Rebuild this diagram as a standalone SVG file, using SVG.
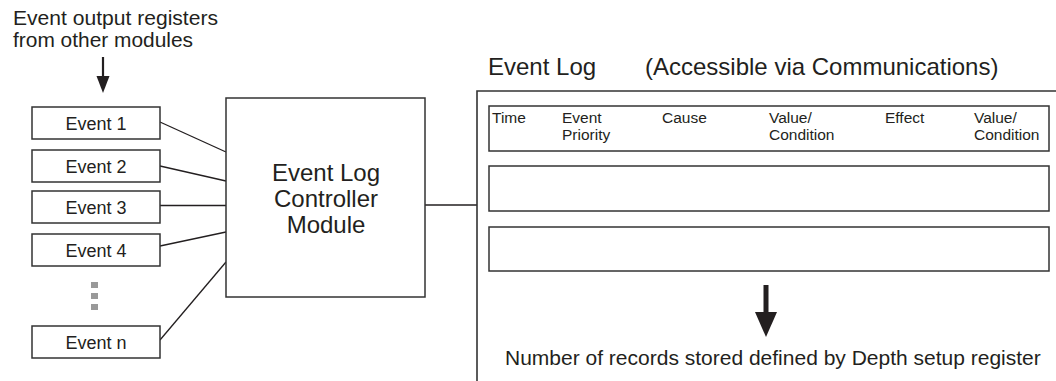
<svg xmlns="http://www.w3.org/2000/svg" width="1056" height="381" viewBox="0 0 1056 381">
<style>
  text { font-family: "Liberation Sans", Arial, sans-serif; fill: #231f20; }
  .box { fill: #ffffff; stroke: #333333; stroke-width: 1.5; }
  .wire { fill: none; stroke: #231f20; stroke-width: 1.3; }
  .lbl { font-size: 18px; text-anchor: middle; }
  .big { font-size: 24px; }
  .hdr { font-size: 15.5px; }
  .note { font-size: 21px; }
  .src { font-size: 20.5px; }
  .dot { fill: #999999; }
</style>
<rect width="1056" height="381" fill="#ffffff"/>

<g id="source-note">
  <text class="src" x="13" y="25" textLength="205" lengthAdjust="spacingAndGlyphs">Event output registers</text>
  <text class="src" x="13" y="47" textLength="180" lengthAdjust="spacingAndGlyphs">from other modules</text>
  <line x1="103" y1="57" x2="103" y2="77" stroke="#231f20" stroke-width="2.2"/>
  <polygon points="96.5,76 109.5,76 103,93" fill="#231f20"/>
</g>

<g id="connectors">
  <line class="wire" x1="160" y1="122" x2="226" y2="152"/>
  <line class="wire" x1="160" y1="166" x2="226" y2="181"/>
  <line class="wire" x1="160" y1="205.5" x2="226" y2="205.5"/>
  <line class="wire" x1="160" y1="246" x2="226" y2="232"/>
  <line class="wire" x1="160" y1="340" x2="226" y2="262"/>
  <line class="wire" x1="425" y1="205" x2="477" y2="205"/>
</g>

<g id="event1"><rect class="box" x="32" y="107" width="128" height="32"/><text class="lbl" x="96" y="130">Event 1</text></g>
<g id="event2"><rect class="box" x="32" y="150" width="128" height="32"/><text class="lbl" x="96" y="173">Event 2</text></g>
<g id="event3"><rect class="box" x="32" y="191" width="128" height="32"/><text class="lbl" x="96" y="214">Event 3</text></g>
<g id="event4"><rect class="box" x="32" y="234" width="128" height="32"/><text class="lbl" x="96" y="257">Event 4</text></g>
<g id="ellipsis">
  <rect class="dot" x="91" y="282" width="7" height="6"/>
  <rect class="dot" x="91" y="293" width="7" height="6"/>
  <rect class="dot" x="91" y="304" width="7" height="6"/>
</g>
<g id="eventn"><rect class="box" x="32" y="326" width="128" height="32"/><text class="lbl" x="96" y="349">Event n</text></g>

<g id="controller">
  <rect class="box" x="226" y="98" width="199" height="199"/>
  <text class="big" x="326" y="181" text-anchor="middle">Event Log</text>
  <text class="big" x="326" y="207" text-anchor="middle">Controller</text>
  <text class="big" x="326" y="233" text-anchor="middle">Module</text>
</g>

<g id="event-log">
  <text class="big" x="488" y="75">Event Log</text>
  <text class="big" x="645" y="75">(Accessible via Communications)</text>
  <path d="M477,381 V91 H1056" fill="none" stroke="#333333" stroke-width="1.6"/>
  <rect class="box" x="489" y="106" width="560" height="45"/>
  <text class="hdr" x="492" y="123">Time</text>
  <text class="hdr" x="562" y="123">Event</text>
  <text class="hdr" x="562" y="140">Priority</text>
  <text class="hdr" x="662" y="123">Cause</text>
  <text class="hdr" x="769" y="123">Value/</text>
  <text class="hdr" x="769" y="140">Condition</text>
  <text class="hdr" x="885" y="123">Effect</text>
  <text class="hdr" x="974" y="123">Value/</text>
  <text class="hdr" x="974" y="140">Condition</text>
  <rect class="box" x="489" y="166" width="560" height="45"/>
  <rect class="box" x="489" y="227" width="560" height="44"/>
  <rect x="763.5" y="285" width="5" height="28" fill="#231f20"/>
  <polygon points="755,312 777,312 766,337" fill="#231f20"/>
  <text class="note" x="505" y="365">Number of records stored defined by Depth setup register</text>
</g>
</svg>
